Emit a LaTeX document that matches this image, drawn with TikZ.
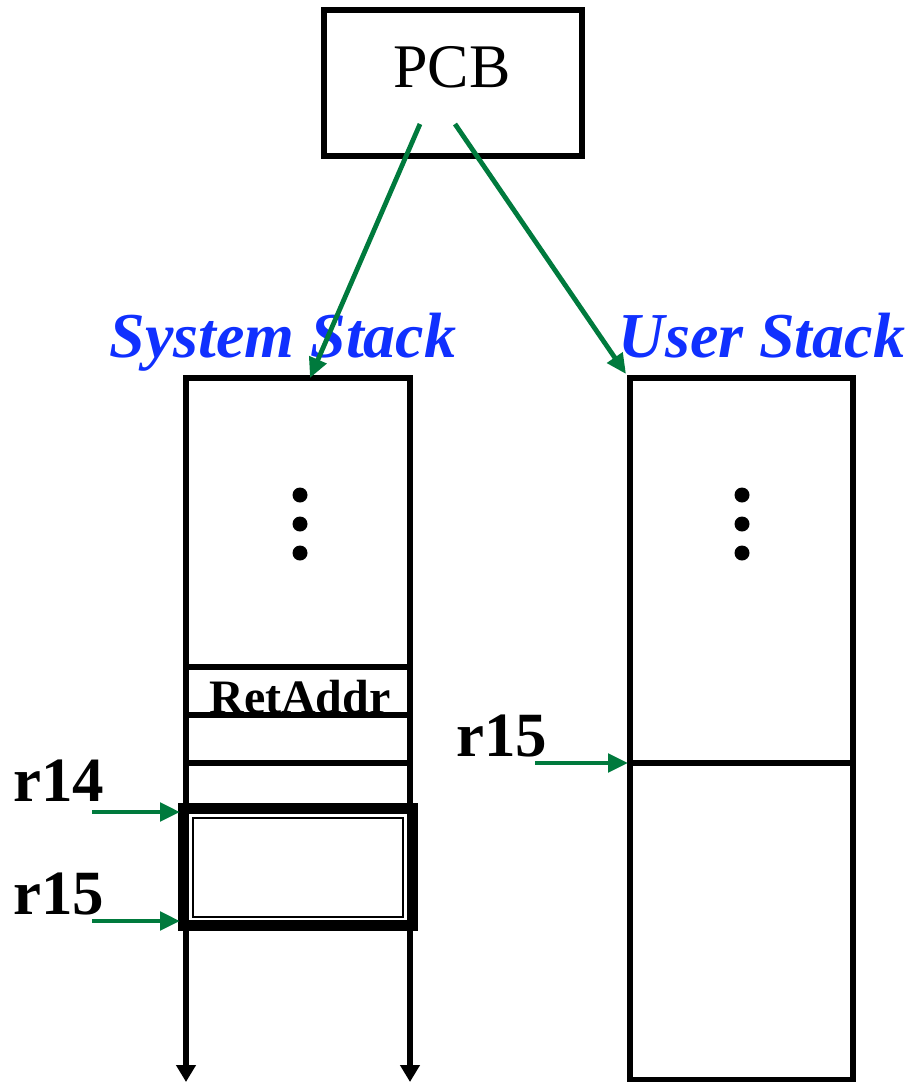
\documentclass[tikz,border=0pt]{standalone}
\usepackage{fontspec}
\setmainfont{Liberation Serif}
\usetikzlibrary{arrows.meta}
\definecolor{arrowgreen}{RGB}{0,122,61}
\definecolor{labelblue}{RGB}{16,48,255}
\begin{document}
\begin{tikzpicture}[x=1pt,y=-1pt,line join=miter,
  boxline/.style={draw=black,line width=5.2pt},
  garrow/.style={draw=arrowgreen,line width=4.8pt,-{Triangle[length=20pt,width=18pt]}},
  stacktitle/.style={text=labelblue,font=\fontsize{64}{64}\selectfont\bfseries\itshape,anchor=base,inner sep=0pt},
  reglabel/.style={font=\fontsize{63}{63}\selectfont\bfseries,anchor=base,inner sep=0pt},
  dot/.style={circle,fill=black,inner sep=0pt,minimum size=15pt}]
\useasboundingbox (0,0) rectangle (912,1082);

% PCB
\node[boxline,minimum width=258pt,minimum height=146pt,inner sep=0pt] (pcb) at (453,83) {};
\node[font=\fontsize{62}{62}\selectfont,anchor=base,inner sep=0pt] (pcbtext) at (452,87) {PCB};
\coordinate (pcbL) at (420,124);
\coordinate (pcbR) at (455,124);

% titles
\node[stacktitle] (systitle) at (283,357) {System Stack};
\node[stacktitle] (usrtitle) at (762,357) {User Stack};

% system stack column
\coordinate (sysTL) at (186,378);
\coordinate (sysTR) at (410,378);
\coordinate (sysBL) at (186,1082);
\coordinate (sysBR) at (410,1082);
\draw[boxline,{Triangle[length=17pt,width=19pt]}-{Triangle[length=17pt,width=19pt]}]
  (sysBL) -- (sysTL) -- (sysTR) -- (sysBR);
\coordinate (sysTarget) at (310,378);
\draw[boxline] (186,667) -- (410,667);
\draw[boxline] (186,715) -- (410,715);
\draw[boxline] (186,763) -- (410,763);
\node[font=\fontsize{48}{48}\selectfont\bfseries,anchor=base,inner sep=0pt] (retaddr) at (300,713) {RetAddr};

% current frame (double border)
\draw[line width=11pt,fill=white] (183.5,808.5) rectangle (412.5,925.5);
\draw[line width=2.5pt] (193,818) rectangle (403,917);
\coordinate (frameTop) at (180,812);
\coordinate (frameBot) at (180,921);

% dots system
\node[dot] (sd1) at (300,495) {};
\node[dot] (sd2) at (300,524) {};
\node[dot] (sd3) at (300,553) {};

% user stack
\node[boxline,minimum width=223pt,minimum height=702pt,inner sep=0pt] (usr) at (741.5,729) {};
\draw[boxline] (630,763) -- (853,763);
\coordinate (usrTarget) at (626,374);
\coordinate (usrR15) at (628,763);
\node[dot] (ud1) at (742,495) {};
\node[dot] (ud2) at (742,524) {};
\node[dot] (ud3) at (742,553) {};

% register labels
\node[reglabel] (r14) at (59,801) {r14};
\node[reglabel] (r15a) at (59,914) {r15};
\node[reglabel] (r15b) at (502,756) {r15};
\coordinate (r14s) at (92,812);
\coordinate (r15as) at (92,921);
\coordinate (r15bs) at (535,763);

% connectors
\draw[garrow] (pcbL) -- (sysTarget);
\draw[garrow] (pcbR) -- (usrTarget);
\draw[garrow] (r14s) -- (frameTop);
\draw[garrow] (r15as) -- (frameBot);
\draw[garrow] (r15bs) -- (usrR15);
\end{tikzpicture}
\end{document}
